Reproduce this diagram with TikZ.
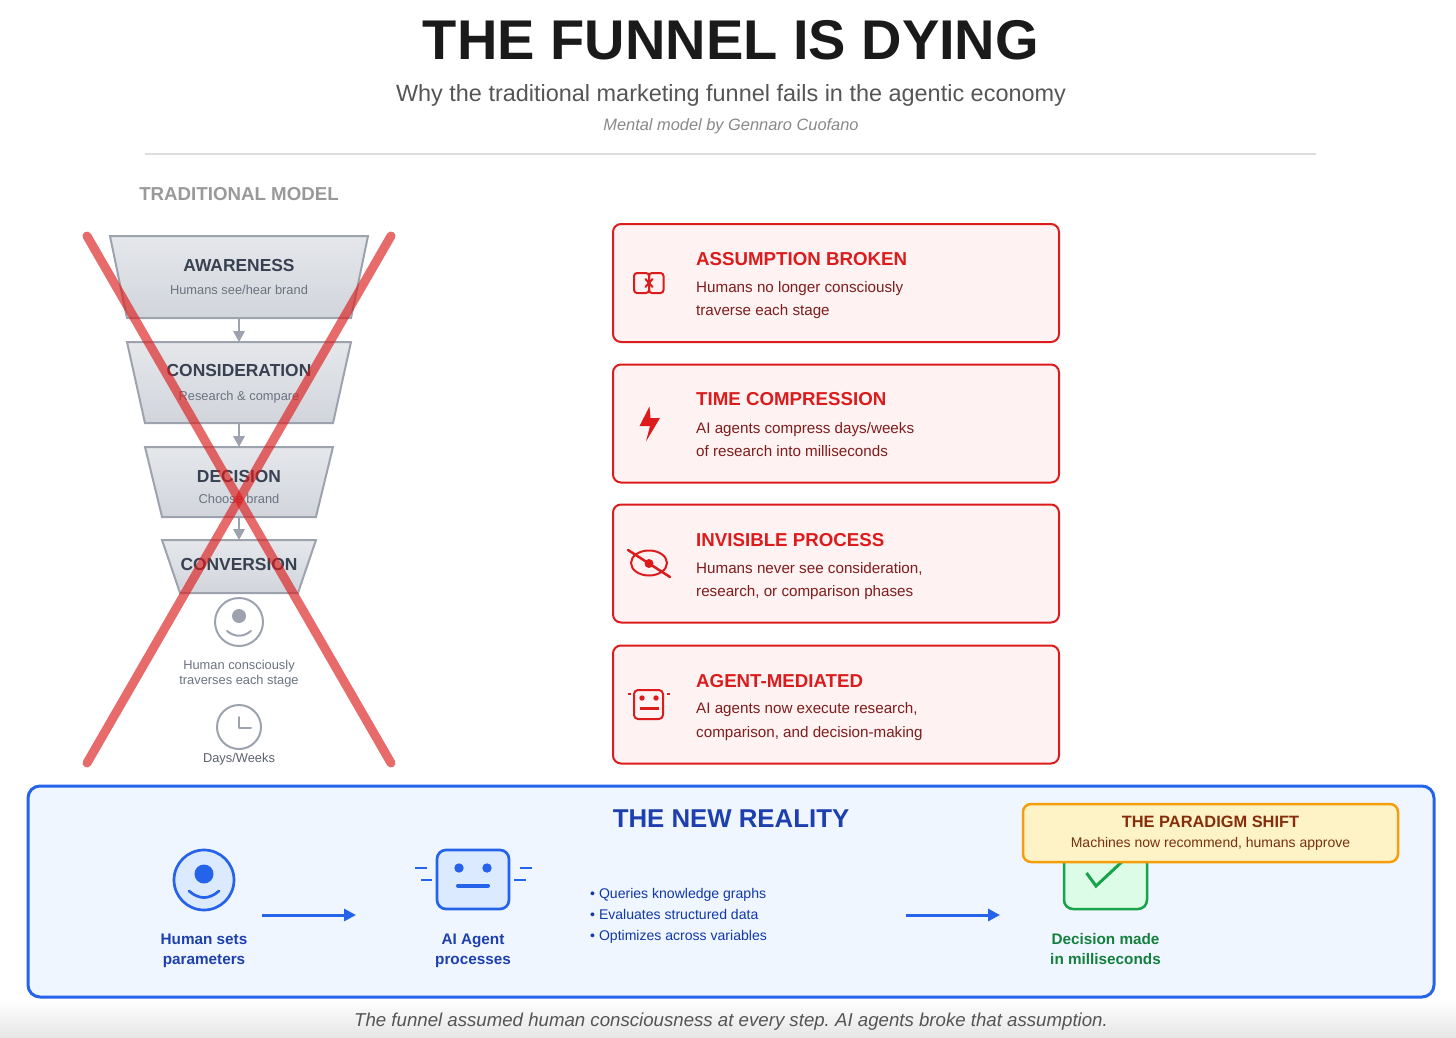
\documentclass[tikz,border=0pt]{standalone}
\usepackage{fontspec}
\setmainfont{Liberation Sans}
\frenchspacing
\usetikzlibrary{shapes.geometric}
\usetikzlibrary{arrows.meta}

\definecolor{ink}{HTML}{1A1A1A}
\definecolor{subgray}{HTML}{555555}
\definecolor{rulegray}{HTML}{DDDDDD}
\definecolor{fadegray}{HTML}{999999}
\definecolor{bylinegray}{HTML}{888888}
\definecolor{funneledge}{HTML}{9CA3AF}
\definecolor{funneltop}{HTML}{E5E7EB}
\definecolor{funnelbot}{HTML}{D1D5DB}
\definecolor{slatehead}{HTML}{374151}
\definecolor{slatetext}{HTML}{6B7280}
\definecolor{crossred}{HTML}{DC1C1C}
\definecolor{cardfill}{HTML}{FEF2F2}
\definecolor{carddark}{HTML}{7F1D1D}
\definecolor{bluemain}{HTML}{2563EB}
\definecolor{bluepale}{HTML}{EFF6FF}
\definecolor{bluesoft}{HTML}{DBEAFE}
\definecolor{bluedark}{HTML}{1E40AF}
\definecolor{bluenotes}{HTML}{1238A8}
\definecolor{greenmain}{HTML}{16A34A}
\definecolor{greenfill}{HTML}{DCFCE7}
\definecolor{greendark}{HTML}{15803D}
\definecolor{shiftfill}{HTML}{FEF3C7}
\definecolor{shiftedge}{HTML}{F59E0B}
\definecolor{shifthead}{HTML}{862E0B}
\definecolor{shifttext}{HTML}{78300C}

\tikzset{
  stage/.style={draw=funneledge, line width=2pt, top color=funneltop, bottom color=funnelbot,
    trapezium, shape border rotate=180, trapezium stretches body, inner xsep=0pt, outer sep=0pt},
  stagehead/.style={text=slatehead, anchor=base, font=\fontsize{17.4}{20}\selectfont\bfseries, inner sep=0pt},
  stagetext/.style={text=slatetext, anchor=base, font=\fontsize{12.85}{15}\selectfont, inner sep=0pt, align=center},
  stagearrow/.style={draw=funneledge, line width=2pt, -{Triangle[length=11pt,width=11.5pt]}},
  faint/.style={draw=funneledge, line width=2pt, line cap=round, line join=round},
  cross/.style={draw=crossred, line width=9pt, line cap=round, opacity=0.65},
  card/.style={draw=crossred, fill=cardfill, line width=2pt, rounded corners=8pt,
    minimum width=446pt, minimum height=118pt, inner sep=0pt},
  cardhead/.style={text=crossred, anchor=base west, font=\fontsize{18.7}{22}\selectfont\bfseries, inner sep=0pt},
  cardtext/.style={text=carddark, anchor=base west, align=left, font=\fontsize{15.2}{23.4}\selectfont, inner sep=0pt},
  cardicon/.style={draw=crossred, line width=2pt, line cap=round, line join=round},
  blueicon/.style={draw=bluemain, line width=2.7pt, line cap=round, line join=round},
  bluelabel/.style={text=bluedark, anchor=base, align=center, font=\fontsize{15.3}{20.3}\selectfont\bfseries, inner sep=0pt},
  bluenote/.style={text=bluenotes, anchor=base west, font=\fontsize{14.05}{16}\selectfont, inner sep=0pt},
  bluearrow/.style={draw=bluemain, line width=3pt, -{Triangle[length=12pt,width=12pt]}}
}

\begin{document}
\begin{tikzpicture}[x=1pt, y=-1pt]
  \useasboundingbox (0,0) rectangle (1456,1038);
  \fill[top color=white, bottom color=black!10] (0,999) rectangle (1456,1038);

  \node[text=ink, inner sep=0pt, anchor=base, font=\fontsize{56}{60}\selectfont\bfseries] (title) at (731,60) {THE FUNNEL IS DYING};
  \node[text=subgray, inner sep=0pt, anchor=base, font=\fontsize{23.45}{28}\selectfont] (subtitle) at (731,102) {Why the traditional marketing funnel fails in the agentic economy};
  \node[text=bylinegray, inner sep=0pt, anchor=base, font=\fontsize{16.4}{18}\selectfont\itshape] (byline) at (731,130.5) {Mental model by Gennaro Cuofano};
  \coordinate (ruleL) at (145,154);
  \coordinate (ruleR) at (1316,154);
  \draw[rulegray, line width=2pt] (ruleL) -- (ruleR);

  \node[text=fadegray, inner sep=0pt, anchor=base, font=\fontsize{18.7}{22}\selectfont\bfseries] (tradhead) at (239,200.5) {TRADITIONAL MODEL};

  \node[stage, minimum width=258pt, inner ysep=41pt, trapezium angle=78.3] (aware) at (239,277) {};
  \node[stage, minimum width=224pt, inner ysep=40.5pt, trapezium angle=77.5] (consider) at (239,382.5) {};
  \node[stage, minimum width=188pt, inner ysep=35pt, trapezium angle=76.3] (decide) at (239,482) {};
  \node[stage, minimum width=154pt, inner ysep=26.5pt, trapezium angle=71.2] (convert) at (239,566.5) {};
  \draw[stagearrow] (aware.south) -- (consider.north);
  \draw[stagearrow] (consider.south) -- (decide.north);
  \draw[stagearrow] (decide.south) -- (convert.north);
  \node[stagehead] (awarehead) at (239,271) {AWARENESS};
  \node[stagetext] (awaretext) at (239,294) {Humans see/hear brand};
  \node[stagehead] (considerhead) at (239,376) {CONSIDERATION};
  \node[stagetext] (considertext) at (239,400) {Research \& compare};
  \node[stagehead] (decidehead) at (239,482.5) {DECISION};
  \node[stagetext] (decidetext) at (239,503) {Choose brand};
  \node[stagehead] (converthead) at (239,570) {CONVERSION};

  \draw[faint] (239,622) circle (24);
  \fill[funneledge] (239,616) circle (7);
  \draw[faint] (227,631) .. controls (235,637.3) and (243,637.3) .. (251,631);
  \node[stagetext] (humantext) at (239,684) {Human consciously\\traverses each stage};
  \draw[faint] (239,727) circle (22);
  \draw[faint] (239,717) -- (239,727.5) -- (251,727.5);
  \node[stagetext, text=slatetext!85!black] (daystext) at (239,762.5) {Days/Weeks};

  \coordinate (crossA) at (87,236);
  \coordinate (crossB) at (391,763);
  \coordinate (crossC) at (391,236);
  \coordinate (crossD) at (87,763);
  \draw[cross] (crossA) -- (crossB);
  \draw[cross] (crossC) -- (crossD);

  \node[card] (assume) at (836,283) {};
  \node[cardhead] (assumehead) at (696,265) {ASSUMPTION BROKEN};
  \node[cardtext] (assumetext) at (696,315.6) {Humans no longer consciously\\traverse each stage};
  \draw[cardicon, rounded corners=3pt] (634,273) rectangle (649,293);
  \draw[cardicon, rounded corners=3pt] (649,273) rectangle (663.5,293);
  \draw[cardicon] (645.5,279) -- (652.5,287);
  \draw[cardicon] (652.5,279) -- (645.5,287);

  \node[card] (compress) at (836,423.5) {};
  \node[cardhead] (compresshead) at (696,405.5) {TIME COMPRESSION};
  \node[cardtext] (compresstext) at (696,456.5) {AI agents compress days/weeks\\of research into milliseconds};
  \fill[crossred] (649.5,406.5) -- (639.5,426) -- (650,426) -- (646,441.5) -- (660,418) -- (650.5,418) -- cycle;

  \node[card] (hidden) at (836,563.5) {};
  \node[cardhead] (hiddenhead) at (696,546) {INVISIBLE PROCESS};
  \node[cardtext] (hiddentext) at (696,596.6) {Humans never see consideration,\\research, or comparison phases};
  \draw[cardicon] (649,563) ellipse (18 and 12.5);
  \fill[crossred] (649,563.5) circle (4.5);
  \draw[cardicon, line width=2.5pt] (628,550) -- (670,577);

  \node[card] (mediate) at (836,704.5) {};
  \node[cardhead] (mediatehead) at (696,687) {AGENT-MEDIATED};
  \node[cardtext] (mediatetext) at (696,737.3) {AI agents now execute research,\\comparison, and decision-making};
  \draw[cardicon, rounded corners=4pt] (634,690) rectangle (663,719);
  \fill[crossred] (642,698) circle (2.7);
  \fill[crossred] (656,698) circle (2.7);
  \draw[cardicon, line width=3pt, line cap=butt] (639.5,708) -- (658.5,708);
  \draw[cardicon, line cap=butt] (628,694) -- (631,694);
  \draw[cardicon, line cap=butt] (667,694) -- (670,694);

  \node[draw=bluemain, fill=bluepale, line width=3pt, rounded corners=12pt, minimum width=1406pt,
    minimum height=211pt, inner sep=0pt] (panel) at (731,891.5) {};
  \node[text=bluedark, anchor=base, inner sep=0pt, font=\fontsize{25.8}{30}\selectfont\bfseries] (panelhead) at (731,827.5) {THE NEW REALITY};

  \draw[blueicon, fill=bluesoft] (204,880) circle (30);
  \fill[bluemain] (204,874) circle (9.5);
  \draw[blueicon] (189,891) .. controls (199,899.7) and (209,899.7) .. (219,891);
  \node[bluelabel] (humanlabel) at (204,964.5) {Human sets\\parameters};

  \coordinate (flowA) at (262,915);
  \coordinate (flowB) at (356,915);
  \draw[bluearrow] (flowA) -- (flowB);

  \draw[blueicon, fill=bluesoft, rounded corners=9pt] (437,850) rectangle (509,909);
  \fill[bluemain] (459,868) circle (4.7);
  \fill[bluemain] (487,868) circle (4.7);
  \draw[blueicon, line width=4pt] (458,885.5) -- (488,885.5);
  \draw[blueicon, line width=2.5pt, line cap=butt] (415,868) -- (427,868);
  \draw[blueicon, line width=2.5pt, line cap=butt] (421,880) -- (432,880);
  \draw[blueicon, line width=2.5pt, line cap=butt] (520,868) -- (532,868);
  \draw[blueicon, line width=2.5pt, line cap=butt] (514,880) -- (526,880);
  \node[bluelabel] (agentlabel) at (473,964.5) {AI Agent\\processes};

  \node[bluenote] (noteA) at (590,898) {• Queries knowledge graphs};
  \node[bluenote] (noteB) at (590,919) {• Evaluates structured data};
  \node[bluenote] (noteC) at (590,940) {• Optimizes across variables};

  \coordinate (flowC) at (906,915);
  \coordinate (flowD) at (1000,915);
  \draw[bluearrow] (flowC) -- (flowD);

  \draw[greenmain, fill=greenfill, line width=2.5pt, rounded corners=9pt] (1064,850) rectangle (1147,909);
  \draw[greenmain, line width=3pt] (1086.5,873) -- (1096,886) -- (1126,858);
  \node[bluelabel, text=greendark] (decidelabel) at (1105.5,964.5) {Decision made\\in milliseconds};

  \node[draw=shiftedge, fill=shiftfill, line width=2.5pt, rounded corners=8pt, minimum width=375pt,
    minimum height=58pt, inner sep=0pt] (shift) at (1210.5,833) {};
  \node[text=shifthead, anchor=base, inner sep=0pt, font=\fontsize{16.4}{20}\selectfont\bfseries] (shifthead) at (1210.5,827) {THE PARADIGM SHIFT};
  \node[text=shifttext, anchor=base, inner sep=0pt, font=\fontsize{14}{16}\selectfont] (shifttext) at (1210.5,847) {Machines now recommend, humans approve};

  \node[text=subgray, anchor=base, inner sep=0pt, font=\fontsize{18.65}{20}\selectfont\itshape] (closing) at (731,1026) {The funnel assumed human consciousness at every step. AI agents broke that assumption.};
\end{tikzpicture}
\end{document}
